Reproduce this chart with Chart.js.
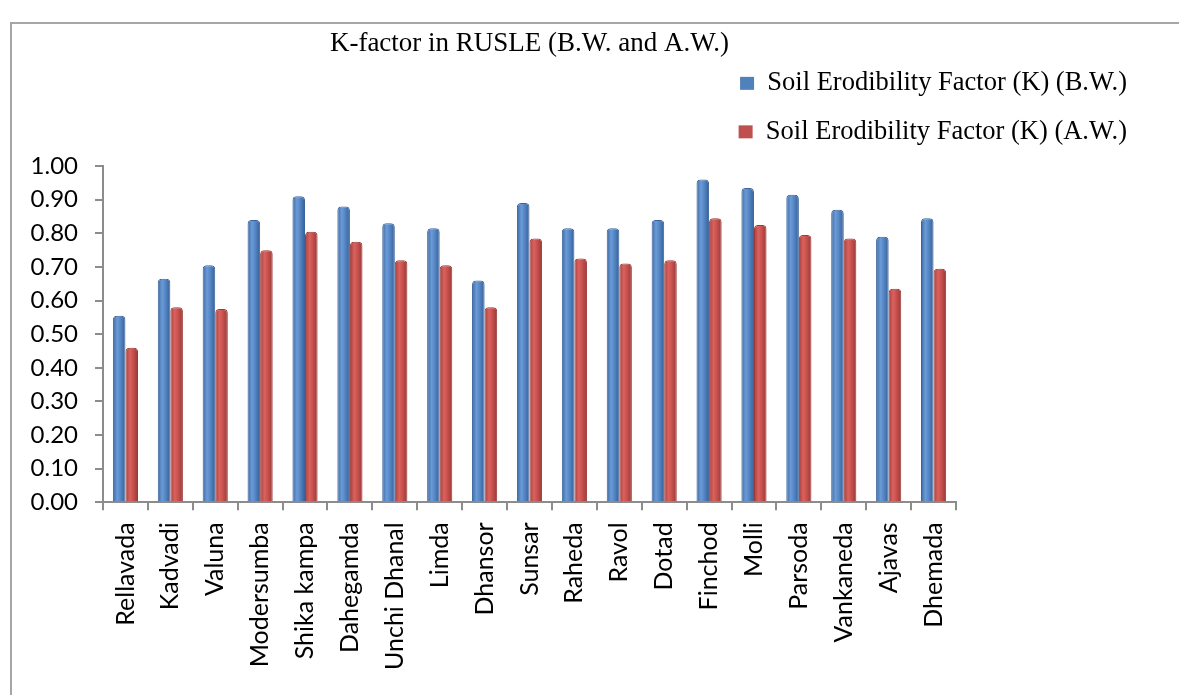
<!DOCTYPE html>
<html>
<head>
  <title>K-factor in RUSLE</title>
  <script src="https://cdn.jsdelivr.net/npm/chart.js"></script>
  <style>
    body {
      margin: 0;
      background: white;
    }

    .frame {
      position: absolute;
      left: 10px;
      top: 22px;
      width: 1200px;
      height: 700px;
      border-left: 2px solid #a6a6a6;
      border-top: 2px solid #a6a6a6;
    }

    canvas {
      position: absolute;
      left: 0;
      top: 0;
    }
  </style>
</head>
<body>

  <div class="frame"></div>
  <canvas id="kChart" width="1179" height="695"></canvas>

  <script>
    const villages = ["Rellavada", "Kadvadi", "Valuna", "Modersumba", "Shika kampa", "Dahegamda",
      "Unchi Dhanal", "Limda", "Dhansor", "Sunsar", "Raheda", "Ravol", "Dotad", "Finchod",
      "Molli", "Parsoda", "Vankaneda", "Ajavas", "Dhemada"];
    const kBefore = [0.555, 0.665, 0.705, 0.84, 0.91, 0.88, 0.83, 0.815, 0.66, 0.89,
      0.815, 0.815, 0.84, 0.96, 0.935, 0.915, 0.87, 0.79, 0.845];
    const kAfter = [0.46, 0.58, 0.575, 0.75, 0.805, 0.775, 0.72, 0.705, 0.58, 0.785,
      0.725, 0.71, 0.72, 0.845, 0.825, 0.795, 0.785, 0.635, 0.695];

    const catPct = 0.56;

    // cylinder-ish shading across each bar
    function shade(stops) {
      return function (c) {
        const chart = c.chart;
        const xs = chart.scales.x;
        if (!xs || !chart.chartArea) return stops[1];
        const catW = xs.width / villages.length;
        const barW = catW * catPct / 2;
        const mid = xs.getPixelForValue(c.dataIndex) + (c.datasetIndex === 0 ? -barW / 2 : barW / 2);
        const g = chart.ctx.createLinearGradient(mid - barW / 2, 0, mid + barW / 2, 0);
        g.addColorStop(0, stops[0]);
        g.addColorStop(0.35, stops[1]);
        g.addColorStop(0.6, stops[2]);
        g.addColorStop(1, stops[3]);
        return g;
      };
    }

    // legend: wrap to two rows and leave a little room under it
    const legendRows = {
      id: "legendRows",
      beforeInit(chart) {
        const fit = chart.legend.fit;
        chart.legend.fit = function () {
          this.maxWidth = Math.min(this.maxWidth, 470);
          fit.bind(chart.legend)();
          this.height += 11;
        };
      }
    };

    const ctx = document.getElementById("kChart").getContext("2d");
    const kChart = new Chart(ctx, {
      type: "bar",
      data: {
        labels: villages,
        datasets: [{
          label: "Soil Erodibility Factor (K) (B.W.)",
          data: kBefore,
          backgroundColor: shade(["#3b68a3", "#6b9bd6", "#5587c6", "#365f95"]),
          borderColor: "#3a639a",
          borderWidth: 1,
          borderRadius: { topLeft: 4, topRight: 4 },
          borderSkipped: "bottom",
          categoryPercentage: catPct,
          barPercentage: 1
        }, {
          label: "Soil Erodibility Factor (K) (A.W.)",
          data: kAfter,
          backgroundColor: shade(["#a63f3c", "#d9625f", "#c9514e", "#973936"]),
          borderColor: "#9a3b38",
          borderWidth: 1,
          borderRadius: { topLeft: 4, topRight: 4 },
          borderSkipped: "bottom",
          categoryPercentage: catPct,
          barPercentage: 1
        }]
      },
      options: {
        responsive: false,
        animation: false,
        layout: {
          padding: { left: 0, right: 30, top: 0, bottom: 13 }
        },
        plugins: {
          title: {
            display: true,
            text: "K-factor in RUSLE (B.W. and A.W.)",
            fullSize: false,
            color: "#000",
            font: { family: "Liberation Serif", size: 27, weight: "normal", lineHeight: 0.3 },
            padding: { top: 40, bottom: 0 }
          },
          legend: {
            position: "top",
            align: "end",
            labels: {
              color: "#000",
              font: { family: "Liberation Serif", size: 26.5 },
              boxWidth: 14,
              boxHeight: 13,
              padding: 22,
              generateLabels(chart) {
                return chart.data.datasets.map((ds, i) => ({
                  text: ds.label,
                  fillStyle: i === 0 ? "#4f81bd" : "#c0504d",
                  strokeStyle: i === 0 ? "#4f81bd" : "#c0504d",
                  lineWidth: 0,
                  datasetIndex: i,
                  hidden: false
                }));
              }
            }
          },
          tooltip: { enabled: false }
        },
        scales: {
          x: {
            grid: {
              drawOnChartArea: false,
              drawTicks: true,
              tickLength: 8,
              color: "#8c8c8c",
              lineWidth: 2
            },
            border: { color: "#8c8c8c", width: 2 },
            ticks: {
              minRotation: 90,
              maxRotation: 90,
              padding: 12,
              color: "#000",
              font: { family: "Lato", size: 25 }
            }
          },
          y: {
            min: 0,
            max: 1,
            grid: {
              drawOnChartArea: false,
              drawTicks: true,
              tickLength: 8,
              color: "#8c8c8c",
              lineWidth: 2
            },
            border: { color: "#8c8c8c", width: 2 },
            ticks: {
              stepSize: 0.1,
              padding: 17,
              color: "#000",
              font: { family: "Lato", size: 24 },
              callback: v => v.toFixed(2)
            },
            afterFit(scale) {
              scale.width = 103;
            }
          },
          y2: {
            position: "right",
            grid: { display: false },
            border: { display: false },
            ticks: { display: false },
            afterFit(scale) {
              scale.width = 193;
            }
          }
        }
      },
      plugins: [legendRows]
    });
  </script>

</body>
</html>
